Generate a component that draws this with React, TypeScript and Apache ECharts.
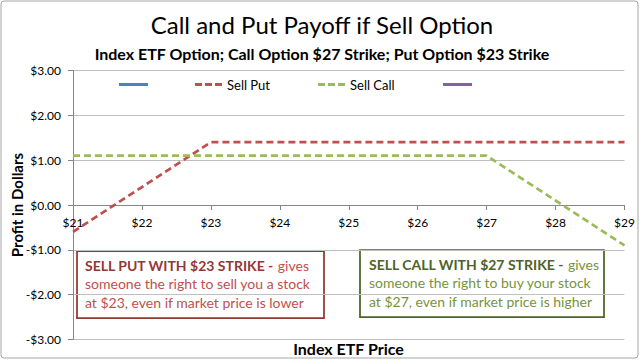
import React, { useEffect, useRef } from "react";
import * as echarts from "echarts";

const prices = [21, 22, 23, 24, 25, 26, 27, 28, 29];
const sellPut = [-0.6, 0.4, 1.4, 1.4, 1.4, 1.4, 1.4, 1.4, 1.4];
const sellCall = [1.1, 1.1, 1.1, 1.1, 1.1, 1.1, 1.1, 0.1, -0.9];
const buyPut: number[][] = [];
const buyCall: number[][] = [];

const titleText = "Call and Put Payoff if Sell Option";
const subtitleText = "Index ETF Option; Call Option $27 Strike; Put Option $23 Strike";
const xName = "Index ETF Price";
const yName = "Profit in Dollars";

const FONT = "Lato, 'Open Sans', sans-serif";
const DASH_ICON = "path://M0,0H7V3H0ZM10,0H17V3H10ZM20,0H27V3H20Z";
const SOLID_ICON = "path://M0,0H29V3H0Z";

const GRID_TOP = 70.5;
const GRID_BOTTOM = 21.5;
const CHART_H = 361;
const Y_MIN = -3;
const Y_MAX = 3;

export default function App() {
  const ref = useRef<HTMLDivElement>(null);
  useEffect(() => {
    document.body.style.margin = "0";
    const chart = echarts.init(ref.current!, null, { renderer: "svg" });
    const dash = [7, 4];
    const plotH = CHART_H - GRID_TOP - GRID_BOTTOM;
    // distance from bottom of grid to the zero line (x axis crosses at $0.00)
    const zeroOffset = (plotH * (0 - Y_MIN)) / (Y_MAX - Y_MIN);
    const legendBase = (left: number, name: string, icon: string, w: number) => ({
      left,
      top: 78,
      padding: 0,
      orient: "horizontal",
      selectedMode: false,
      itemWidth: w,
      itemHeight: 3,
      textStyle: { fontFamily: FONT, fontSize: 13, color: "#000" },
      data: [{ name, icon }],
    });
    chart.setOption({
      animation: false,
      title: [
        {
          text: titleText,
          left: "center",
          top: 9,
          padding: 0,
          textStyle: { fontFamily: FONT, fontSize: 24, fontWeight: "normal", color: "#000", lineHeight: 30 },
        },
        {
          text: subtitleText,
          left: "center",
          top: 43,
          padding: 0,
          textStyle: { fontFamily: FONT, fontSize: 16, fontWeight: "bold", color: "#000", lineHeight: 20 },
        },
      ],
      legend: [
        legendBase(119, " ", SOLID_ICON, 29),
        legendBase(195, "Sell Put", DASH_ICON, 27),
        legendBase(318, "Sell Call", DASH_ICON, 27),
        legendBase(443, "  ", SOLID_ICON, 30),
      ],
      grid: { left: 73, right: 19.5, top: GRID_TOP, bottom: GRID_BOTTOM, containLabel: false, outerBoundsMode: "none" },
      xAxis: {
        type: "value",
        min: 21,
        max: 29,
        interval: 1,
        position: "bottom",
        offset: -zeroOffset,
        axisLine: { show: true, onZero: false, lineStyle: { color: "#868686", width: 1 } },
        axisTick: { show: true, length: 5, lineStyle: { color: "#868686" } },
        axisLabel: {
          fontFamily: FONT,
          fontSize: 12,
          color: "#000",
          margin: 11,
          formatter: (v: number) => "$" + v,
        },
        splitLine: { show: false },
      },
      yAxis: {
        type: "value",
        min: Y_MIN,
        max: Y_MAX,
        interval: 1,
        axisLine: { show: true, lineStyle: { color: "#868686", width: 1 } },
        axisTick: { show: true, length: 5, lineStyle: { color: "#868686" } },
        axisLabel: {
          fontFamily: FONT,
          fontSize: 12,
          color: "#000",
          margin: 12,
          formatter: (v: number) => (v < 0 ? "-$" + Math.abs(v).toFixed(2) : "$" + v.toFixed(2)),
        },
        splitLine: { show: true, lineStyle: { color: "#bfbfbf", width: 1 } },
      },
      series: [
        {
          name: " ",
          type: "line",
          symbol: "none",
          color: "#4f81bd",
          lineStyle: { width: 3, color: "#4f81bd" },
          data: buyPut,
        },
        {
          name: "Sell Put",
          type: "line",
          symbol: "none",
          color: "#c0504d",
          lineStyle: { width: 2.75, color: "#c0504d", type: dash },
          data: prices.map((p, i) => [p, sellPut[i]]),
          z: 3,
        },
        {
          name: "Sell Call",
          type: "line",
          symbol: "none",
          color: "#9bbb59",
          lineStyle: { width: 2.75, color: "#9bbb59", type: dash },
          data: prices.map((p, i) => [p, sellCall[i]]),
          z: 3,
        },
        {
          name: "  ",
          type: "line",
          symbol: "none",
          color: "#8064a2",
          lineStyle: { width: 3, color: "#8064a2" },
          data: buyCall,
        },
      ],
      graphic: [
        {
          type: "rect",
          shape: { x: 1, y: 1, width: 637, height: 357, r: 3 },
          style: { fill: "none", stroke: "#a6a6a6", lineWidth: 1 },
          silent: true,
        },
        {
          type: "text",
          x: 17,
          y: 205,
          rotation: Math.PI / 2,
          style: {
            x: 0,
            y: 0,
            text: yName,
            align: "center",
            verticalAlign: "middle",
            fontFamily: FONT,
            fontSize: 15,
            fontWeight: "bold",
            fill: "#000",
          },
        },
        {
          type: "text",
          style: {
            x: 348.5,
            y: 348,
            text: xName,
            align: "center",
            verticalAlign: "middle",
            fontFamily: FONT,
            fontSize: 16,
            fontWeight: "bold",
            fill: "#000",
          },
        },
        {
          type: "rect",
          shape: { x: 77, y: 251, width: 247, height: 67 },
          style: { fill: "none", stroke: "#953735", lineWidth: 1.75 },
        },
        {
          type: "text",
          style: {
            x: 85,
            y: 256,
            text:
              "{b|SELL PUT WITH $23 STRIKE -}{n| gives}\n{n|someone the right to sell you a stock}\n{n|at $23, even if market price is lower}",
            fontFamily: FONT,
            fontSize: 14,
            lineHeight: 18.5,
            rich: {
              b: { fontFamily: FONT, fontSize: 14, fontWeight: "bold", fill: "#953735", lineHeight: 18.5 },
              n: { fontFamily: FONT, fontSize: 14, fill: "#c0504d", lineHeight: 18.5 },
            },
          },
        },
        {
          type: "rect",
          shape: { x: 360, y: 250, width: 244, height: 67 },
          style: { fill: "none", stroke: "#4f6228", lineWidth: 1.75 },
        },
        {
          type: "text",
          style: {
            x: 369,
            y: 255,
            text:
              "{b|SELL CALL WITH $27 STRIKE -}{n| gives}\n{n|someone the right to buy your stock}\n{n|at $27, even if market price is higher}",
            fontFamily: FONT,
            fontSize: 14,
            lineHeight: 18.5,
            rich: {
              b: { fontFamily: FONT, fontSize: 14, fontWeight: "bold", fill: "#4f6228", lineHeight: 18.5 },
              n: { fontFamily: FONT, fontSize: 14, fill: "#77933c", lineHeight: 18.5 },
            },
          },
        },
      ],
    });
    return () => chart.dispose();
  }, []);
  return (
    <div
      ref={ref}
      style={{ position: "absolute", left: 0, top: 0, width: 644, height: 361, background: "#fff" }}
    />
  );
}
